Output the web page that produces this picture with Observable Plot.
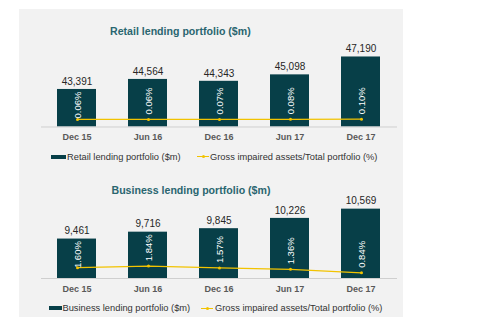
<!DOCTYPE html>
<html>
<head>
<meta charset="utf-8">
<script src="https://cdn.jsdelivr.net/npm/d3@7"></script>
<script src="https://cdn.jsdelivr.net/npm/@observablehq/plot@0.6"></script>
<style>
  body { margin: 0; background: #ffffff; width: 486px; height: 323px; overflow: hidden; }
  #panel { position: absolute; left: 19px; top: 9px; width: 384px; height: 308px; background: #f2f2f2;
           font-family: "Liberation Sans", Arial, sans-serif; }
  .chart { position: absolute; left: 0; width: 384px; height: 140px; }
  .chart svg { position: absolute; left: 0; top: 0; }
  .title { position: absolute; font-size: 10.6px; font-weight: bold; color: #2a6670; line-height: 13px; white-space: nowrap; }
  .leg { position: absolute; left: 0; width: 384px; height: 12px; font-size: 9.3px; color: #333333; line-height: 12px; }
  .leg span { position: absolute; top: 0; white-space: nowrap; }
  .sw { position: absolute; top: 4px; height: 4px; background: #073f48; }
  .ln { position: absolute; top: 5.5px; height: 1.2px; background: #f2c300; }
  .dt { position: absolute; top: 4.5px; width: 3px; height: 3px; border-radius: 50%; background: #f2c300; }
</style>
</head>
<body>
<div id="panel">
  <div id="retail" class="chart" style="top:0px"></div>
  <div id="business" class="chart" style="top:150px"></div>
  <div class="title" style="left:91px;top:16px">Retail lending portfolio ($m)</div>
  <div class="title" style="left:92.5px;top:175px">Business lending portfolio ($m)</div>
  <div class="leg" style="top:141.5px">
    <div class="sw" style="left:32px;width:15px"></div>
    <span style="left:48px">Retail lending portfolio ($m)</span>
    <div class="ln" style="left:178px;width:12px"></div>
    <div class="dt" style="left:182.5px"></div>
    <span style="left:191px">Gross impaired assets/Total portfolio (%)</span>
  </div>
  <div class="leg" style="top:293.3px">
    <div class="sw" style="left:30px;width:13px"></div>
    <span style="left:43.5px">Business lending portfolio ($m)</span>
    <div class="ln" style="left:182px;width:12px"></div>
    <div class="dt" style="left:186.5px"></div>
    <span style="left:196px">Gross impaired assets/Total portfolio (%)</span>
  </div>
</div>
<script>
const periods = ["Dec 15", "Jun 16", "Dec 16", "Jun 17", "Dec 17"];
const retailValues = [43391, 44564, 44343, 45098, 47190];
const retailImpaired = [0.06, 0.06, 0.07, 0.08, 0.10];
const businessValues = [9461, 9716, 9845, 10226, 10569];
const businessImpaired = [1.60, 1.84, 1.57, 1.36, 0.84];
const retailDomain = [39000, 49000];
const retailPctDomain = [-1, 11];
const businessDomain = [8000, 11000];
const businessPctDomain = [0, 12];

const BAR = "#073f48", LINE = "#f2c300";
const font = "Liberation Sans, Arial, sans-serif";

function drawChart(el, values, pcts, yDomain, pDomain, marginTop, marginBottom) {
  const W = 384, H = 140;
  const data = periods.map((p, i) => ({p, v: values[i], r: pcts[i]}));
  const common = {
    width: W, height: H, marginLeft: 22, marginRight: 6, marginTop, marginBottom,
    style: {background: "transparent", fontFamily: font, overflow: "visible"}
  };
  const xOpts = {domain: periods, paddingInner: 0.45, paddingOuter: 0.23};
  const yRange = [H - marginBottom, marginTop];
  const yS = Plot.scale({y: {domain: yDomain, range: yRange}});
  const pS = Plot.scale({y: {domain: pDomain, range: yRange}});
  // label anchor (bottom of rotated text): 5px above the dot, kept inside the bar
  data.forEach(d => {
    const px = Math.max(pS.apply(d.r) - 5, yS.apply(d.v) + 29);
    d.lab = pS.invert(px);
  });
  const bars = Plot.plot({
    ...common,
    x: xOpts,
    y: {domain: yDomain, axis: null},
    marks: [
      Plot.barY(data, {x: "p", y1: yDomain[0], y2: "v", fill: BAR}),
      Plot.ruleY([yDomain[0]], {stroke: "#cfcfcf", strokeWidth: 1}),
      Plot.text(data, {x: "p", y: "v", text: d => d3.format(",")(d.v), dy: -8, fontSize: 10, fill: "#262626"}),
      Plot.axisX({tickSize: 0, tickPadding: 7, fontSize: 9, fontWeight: "bold", fill: "#595959", label: null, style: {letterSpacing: "0.5px"}})
    ]
  });
  const lines = Plot.plot({
    ...common,
    x: {...xOpts, axis: null},
    y: {domain: pDomain, axis: null},
    marks: [
      Plot.line(data, {x: "p", y: "r", stroke: LINE, strokeWidth: 1.3}),
      Plot.dot(data, {x: "p", y: "r", r: 1.5, fill: LINE}),
      Plot.text(data, {x: "p", y: "lab", text: d => d3.format(".2f")(d.r) + "%", rotate: -90, textAnchor: "start",
                       fontSize: 9.5, fill: "#ffffff"})
    ]
  });
  el.appendChild(bars);
  el.appendChild(lines);
}

drawChart(document.getElementById("retail"), retailValues, retailImpaired, retailDomain, retailPctDomain, 32, 22.5);
drawChart(document.getElementById("business"), businessValues, businessImpaired, businessDomain, businessPctDomain, 38, 21);
</script>
</body>
</html>
